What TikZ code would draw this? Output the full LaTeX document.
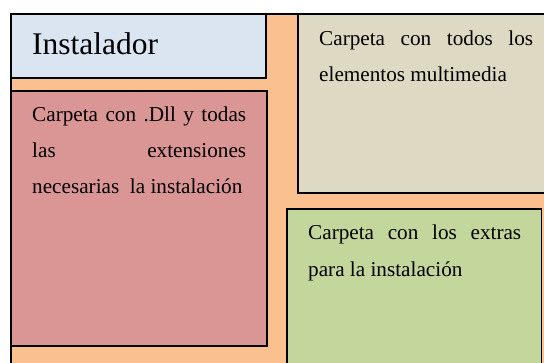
\documentclass[tikz,border=0pt]{standalone}
\usepackage{fontspec}
\setmainfont{Liberation Serif}
\definecolor{orangebg}{HTML}{FAC090}
\definecolor{bluebox}{HTML}{DBE5F1}
\definecolor{redbox}{HTML}{D99694}
\definecolor{beigebox}{HTML}{DDD9C3}
\definecolor{greenbox}{HTML}{C3D69B}
\begin{document}
\begin{tikzpicture}[x=1pt,y=-1pt,
  box/.style={draw=black, line width=1.5pt},
  txt/.style={anchor=base west, inner sep=0pt, font=\fontsize{21.2}{36}\selectfont},
  big/.style={anchor=base west, inner sep=0pt, font=\fontsize{31.5}{36}\selectfont}]
\useasboundingbox (0,0) rectangle (544,363);
\fill[white] (0,0) rectangle (544,363);
\clip (0,0) rectangle (544,363);
% outer frame
\filldraw[box, fill=orangebg] (11,14) rectangle (544.5,380);
% boxes
\filldraw[box, fill=bluebox] (11,14) rectangle (266,78);
\filldraw[box, fill=redbox] (11,91) rectangle (267,346);
\filldraw[box, fill=beigebox] (298,14) rectangle (570,193);
\filldraw[box, fill=greenbox] (287,209) rectangle (541.5,380);
% texts
\node[big] (tinst) at (32,55) {Instalador};
\node[txt] (r1) at (32,122) {\hbox to 214pt{Carpeta\hfill con\hfill .Dll\hfill y\hfill todas}};
\node[txt] (r2) at (32,158) {\hbox to 214pt{las\hfill extensiones}};
\node[txt] (r3) at (32,194) {necesarias\ \ la instalación};
\node[txt] (b1) at (319,46) {\hbox to 214pt{Carpeta\hfill con\hfill todos\hfill los}};
\node[txt] (b2) at (319,82) {elementos multimedia};
\node[txt] (g1) at (308,240) {\hbox to 213pt{Carpeta\hfill con\hfill los\hfill extras}};
\node[txt] (g2) at (308,277) {para la instalación};
\end{tikzpicture}
\end{document}
